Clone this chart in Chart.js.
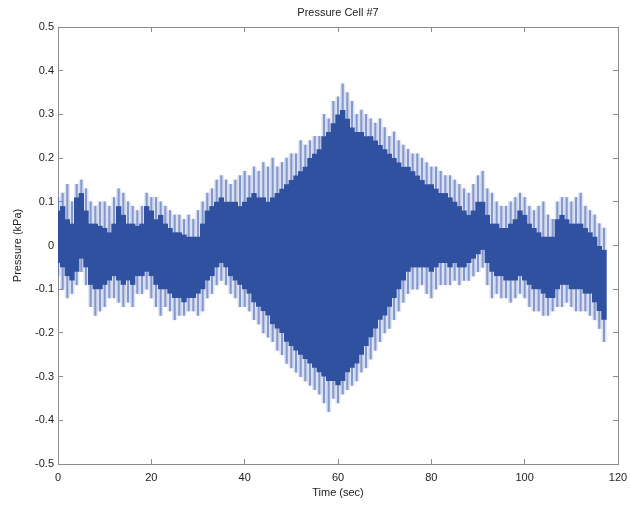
<!DOCTYPE html>
<html>
<head>
<meta charset="utf-8">
<script src="https://cdn.jsdelivr.net/npm/chart.js@4/dist/chart.umd.min.js"></script>
<style>
  html, body { margin: 0; padding: 0; background: #fff; }
  #wrap { width: 631px; height: 508px; }
</style>
</head>
<body>
<div id="wrap"><canvas id="chart" width="631" height="508"></canvas></div>
<script>
const timeSec = [0,1,2,3,4,5,6,7,8,9,10,11,12,13,14,15,16,17,18,19,20,21,22,23,24,25,26,27,28,29,
  30,31,32,33,34,35,36,37,38,39,40,41,42,43,44,45,46,47,48,49,50,51,52,53,54,55,56,57,58,59,
  60,61,62,63,64,65,66,67,68,69,70,71,72,73,74,75,76,77,78,79,80,81,82,83,84,85,86,87,88,89,
  90,91,92,93,94,95,96,97,98,99,100,101,102,103,104,105,106,107,108,109,110,111,112,113,114,115,116,117];

// solid core of the signal (kPa)
const coreHigh = [0.08,0.09,0.06,0.05,0.11,0.12,0.08,0.05,0.05,0.045,
  0.04,0.03,0.05,0.09,0.07,0.05,0.05,0.045,0.05,0.09,
  0.08,0.06,0.07,0.05,0.04,0.03,0.03,0.025,0.02,0.02,
  0.02,0.05,0.08,0.09,0.10,0.11,0.10,0.10,0.10,0.09,
  0.10,0.11,0.12,0.11,0.11,0.10,0.11,0.12,0.13,0.14,
  0.15,0.16,0.17,0.18,0.20,0.21,0.22,0.25,0.26,0.28,
  0.30,0.31,0.29,0.27,0.26,0.26,0.25,0.25,0.24,0.23,
  0.22,0.21,0.20,0.19,0.18,0.18,0.17,0.16,0.15,0.14,
  0.14,0.13,0.12,0.12,0.11,0.10,0.09,0.08,0.07,0.08,
  0.10,0.10,0.07,0.05,0.05,0.04,0.04,0.05,0.06,0.08,
  0.07,0.05,0.04,0.03,0.02,0.02,0.02,0.06,0.07,0.06,
  0.05,0.05,0.05,0.04,0.03,0.02,0.00,-0.01];
const coreLow = [-0.04,-0.05,-0.07,-0.08,-0.06,-0.03,-0.05,-0.09,-0.10,-0.10,
  -0.09,-0.08,-0.07,-0.08,-0.09,-0.08,-0.09,-0.07,-0.07,-0.06,
  -0.07,-0.09,-0.10,-0.10,-0.11,-0.12,-0.12,-0.13,-0.12,-0.12,
  -0.11,-0.10,-0.08,-0.07,-0.05,-0.04,-0.05,-0.07,-0.08,-0.09,
  -0.10,-0.11,-0.13,-0.14,-0.15,-0.16,-0.18,-0.19,-0.20,-0.22,
  -0.23,-0.24,-0.25,-0.26,-0.27,-0.28,-0.29,-0.30,-0.31,-0.31,
  -0.32,-0.31,-0.29,-0.28,-0.27,-0.25,-0.23,-0.21,-0.19,-0.17,
  -0.16,-0.14,-0.12,-0.10,-0.08,-0.06,-0.05,-0.05,-0.05,-0.05,
  -0.06,-0.05,-0.04,-0.04,-0.05,-0.04,-0.05,-0.05,-0.04,-0.03,
  -0.02,-0.01,-0.04,-0.06,-0.07,-0.07,-0.08,-0.08,-0.08,-0.07,
  -0.08,-0.09,-0.10,-0.10,-0.11,-0.12,-0.12,-0.10,-0.09,-0.09,
  -0.10,-0.10,-0.10,-0.11,-0.11,-0.13,-0.15,-0.17];

// thin spikes reaching out of the core (kPa)
const spikeHigh = [0.11,0.12,0.14,0.10,0.14,0.15,0.13,0.10,0.09,0.10,
  0.10,0.09,0.11,0.13,0.12,0.10,0.09,0.08,0.09,0.12,
  0.11,0.11,0.10,0.09,0.08,0.07,0.07,0.06,0.07,0.06,
  0.08,0.10,0.12,0.13,0.15,0.16,0.15,0.14,0.15,0.16,
  0.17,0.16,0.18,0.17,0.19,0.18,0.20,0.18,0.19,0.20,
  0.21,0.21,0.24,0.23,0.24,0.25,0.25,0.30,0.29,0.33,
  0.34,0.37,0.35,0.33,0.30,0.31,0.30,0.29,0.28,0.29,
  0.27,0.25,0.26,0.24,0.23,0.22,0.21,0.21,0.20,0.19,
  0.18,0.18,0.17,0.16,0.16,0.15,0.14,0.13,0.12,0.14,
  0.16,0.17,0.13,0.12,0.10,0.09,0.09,0.10,0.11,0.12,
  0.11,0.09,0.08,0.09,0.10,0.07,0.06,0.10,0.11,0.11,
  0.10,0.11,0.12,0.09,0.08,0.07,0.05,0.04];
const spikeLow = [-0.07,-0.10,-0.12,-0.11,-0.09,-0.06,-0.09,-0.14,-0.16,-0.15,
  -0.14,-0.12,-0.12,-0.13,-0.14,-0.13,-0.14,-0.11,-0.11,-0.10,
  -0.12,-0.14,-0.16,-0.14,-0.15,-0.17,-0.16,-0.16,-0.15,-0.15,
  -0.16,-0.15,-0.12,-0.11,-0.09,-0.08,-0.09,-0.11,-0.12,-0.14,
  -0.14,-0.15,-0.17,-0.18,-0.20,-0.21,-0.22,-0.24,-0.25,-0.27,
  -0.28,-0.29,-0.30,-0.31,-0.32,-0.33,-0.34,-0.36,-0.38,-0.35,
  -0.36,-0.34,-0.33,-0.32,-0.31,-0.29,-0.28,-0.26,-0.24,-0.22,
  -0.20,-0.19,-0.17,-0.15,-0.13,-0.11,-0.10,-0.10,-0.09,-0.11,
  -0.12,-0.10,-0.09,-0.09,-0.09,-0.08,-0.09,-0.08,-0.08,-0.07,
  -0.06,-0.05,-0.09,-0.12,-0.11,-0.12,-0.12,-0.13,-0.12,-0.11,
  -0.12,-0.14,-0.15,-0.15,-0.16,-0.16,-0.15,-0.14,-0.14,-0.13,
  -0.14,-0.15,-0.15,-0.15,-0.16,-0.17,-0.19,-0.22];

const xTicks = [0, 20, 40, 60, 80, 100, 120];
const yTicks = [-0.5, -0.4, -0.3, -0.2, -0.1, 0, 0.1, 0.2, 0.3, 0.4, 0.5];

const FONT = { family: "'Liberation Sans', Arial, sans-serif", size: 11 };
const FRAME = '#8c8c8c';

// floating bars [low, high] per second
const coreBars = timeSec.map((t, i) => ({ x: t, y: [coreLow[i], coreHigh[i]] }));
const spikeBars = timeSec.map((t, i) => ({ x: t, y: [spikeLow[i], spikeHigh[i]] }));

function setTicks(list) {
  return scale => { scale.ticks = list.map(v => ({ value: v })); };
}

// inward tick marks on every side, no labels on top/right
function axisBase(pos, ticksList) {
  return {
    type: 'linear',
    position: pos,
    offset: false,
    afterBuildTicks: setTicks(ticksList),
    border: { display: true, color: FRAME, width: 1 },
    grid: { display: true, drawOnChartArea: false, drawTicks: true, tickLength: -5, color: FRAME, offset: false }
  };
}

const ctx = document.getElementById('chart').getContext('2d');
const chart = new Chart(ctx, {
  type: 'bar',
  data: {
    datasets: [
      {
        label: 'core',
        data: coreBars,
        backgroundColor: '#3050a0',
        borderWidth: 0,
        barPercentage: 1.15,
        categoryPercentage: 1,
        grouped: false
      },
      {
        label: 'spike lines',
        data: spikeBars,
        backgroundColor: 'rgba(70,100,180,0.6)',
        borderWidth: 0,
        barThickness: 1.5,
        grouped: false
      },
      {
        label: 'spike halo',
        data: spikeBars,
        backgroundColor: 'rgba(150,168,215,0.28)',
        borderWidth: 0,
        barPercentage: 1,
        categoryPercentage: 1,
        grouped: false
      }
    ]
  },
  options: {
    responsive: false,
    animation: false,
    events: [],
    layout: { padding: { left: 0, right: 13, top: 0, bottom: 0 } },
    plugins: {
      legend: { display: false },
      tooltip: { enabled: false },
      title: {
        display: true,
        text: 'Pressure Cell #7',
        fullSize: false,
        color: '#222',
        font: { family: FONT.family, size: 11, weight: 'normal' },
        padding: { top: 6, bottom: 7.8 }
      }
    },
    scales: {
      x: Object.assign(axisBase('bottom', xTicks), {
        min: 0, max: 120,
        ticks: { color: '#222', font: FONT, padding: 12, maxRotation: 0, autoSkip: false },
        title: { display: true, text: 'Time (sec)', color: '#222', font: FONT, padding: { top: 0, bottom: 8 } },
        afterFit: s => { s.height = 44; s.paddingLeft = 0; s.paddingRight = 0; }
      }),
      y: Object.assign(axisBase('left', yTicks), {
        min: -0.5, max: 0.5,
        ticks: { color: '#222', font: FONT, padding: 9, callback: v => String(Math.round(v * 10) / 10) },
        title: { display: true, text: 'Pressure (kPa)', color: '#222', font: FONT, padding: { top: 11, bottom: 0 } },
        afterFit: s => { s.width = 58; s.paddingTop = 0; s.paddingBottom = 0; }
      }),
      x2: Object.assign(axisBase('top', xTicks), {
        min: 0, max: 120,
        ticks: { display: false },
        afterFit: s => { s.height = 0; s.paddingLeft = 0; s.paddingRight = 0; }
      }),
      y2: Object.assign(axisBase('right', yTicks), {
        min: -0.5, max: 0.5,
        ticks: { display: false },
        afterFit: s => { s.width = 0; s.paddingTop = 0; s.paddingBottom = 0; }
      })
    }
  }
});
</script>
</body>
</html>
